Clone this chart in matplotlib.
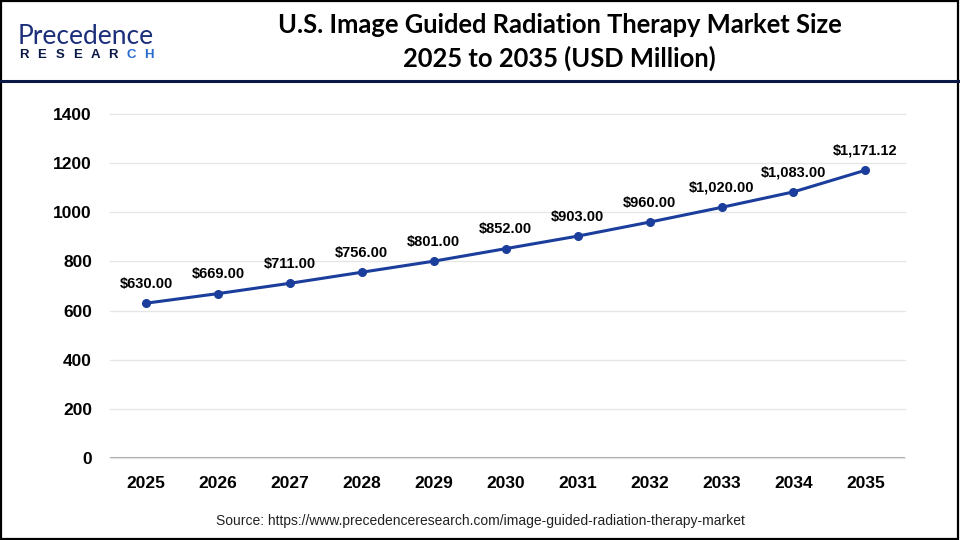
import matplotlib
matplotlib.use("Agg")
import matplotlib.pyplot as plt
from matplotlib.lines import Line2D
from matplotlib.patches import Rectangle

# ── data ───────────────────────────────────────────────────────────────────────
years  = [2025, 2026, 2027, 2028, 2029, 2030, 2031, 2032, 2033, 2034, 2035]
values = [630.00, 669.00, 711.00, 756.00, 801.00, 852.00, 903.00, 960.00,
          1020.00, 1083.00, 1171.12]
y_ticks = [0, 200, 400, 600, 800, 1000, 1200, 1400]

TITLE  = "U.S. Image Guided Radiation Therapy Market Size\n2025 to 2035 (USD Million)"
SOURCE = "Source: https://www.precedenceresearch.com/image-guided-radiation-therapy-market"

LINE_BLUE = "#1b3d9c"
NAVY      = "#0b1a45"
GRID      = "#e6e6e6"

plt.rcParams["font.family"] = ["Liberation Sans", "DejaVu Sans"]

fig = plt.figure(figsize=(9.6, 5.4), dpi=100)
fig.patch.set_facecolor("white")

# outer frame and header divider
fig.add_artist(Rectangle((0.001, 0.002), 0.997, 0.996, transform=fig.transFigure,
                         fill=False, edgecolor="black", linewidth=1.6))
fig.add_artist(Line2D([0, 1], [1 - 81 / 540, 1 - 81 / 540], transform=fig.transFigure,
                      color=NAVY, linewidth=2.2))

# logo
fig.text(18 / 960, 1 - 44 / 540, "Precedence", fontsize=19, color="#1c2f7a",
         ha="left", va="baseline", family=["Lato", "DejaVu Sans"])
for i, ch in enumerate("RESEARCH"):
    fig.text((24 + i * 17.8) / 960, 1 - 57.5 / 540, ch, fontsize=9.5,
             fontweight="bold", color="#2a6bd0" if ch in "CH" and i > 5 else NAVY,
             ha="center", va="baseline")

# title
fig.text(0.583, 1 - 42 / 540, TITLE, fontsize=18.4, fontweight="bold",
         ha="center", va="center", linespacing=1.42, family=["Lato", "DejaVu Sans"])

# ── plot ───────────────────────────────────────────────────────────────────────
ax = fig.add_axes([110 / 960, 1 - 458 / 540, 795 / 960, 344 / 540])
ax.plot(years, values, color=LINE_BLUE, linewidth=2.2, marker="o", markersize=5.5,
        zorder=3)

for x, v in zip(years, values):
    ax.annotate(f"${v:,.2f}", xy=(x, v), xytext=(0, 9), textcoords="offset points",
                ha="center", va="bottom", fontsize=10.5, fontweight="bold")

ax.set_xlim(2024.5, 2035.55)
ax.set_ylim(0, 1400)
ax.set_xticks(years)
ax.set_yticks(y_ticks)
ax.tick_params(axis="both", length=0, labelsize=12.5)
for lbl in ax.get_xticklabels() + ax.get_yticklabels():
    lbl.set_fontweight("bold")
ax.tick_params(axis="y", pad=13)
ax.tick_params(axis="x", pad=13)

for y in y_ticks:
    ax.axhline(y, color=GRID, linewidth=1.0, zorder=0, clip_on=False)
ax.axhline(0, color="#b0b0b0", linewidth=1.5, zorder=1)
for s in ax.spines.values():
    s.set_visible(False)

fig.text(0.5, 1 - 521 / 540, SOURCE, fontsize=10, ha="center", va="center",
         color="#222222")

fig.savefig("out.png", dpi=100, facecolor="white")
